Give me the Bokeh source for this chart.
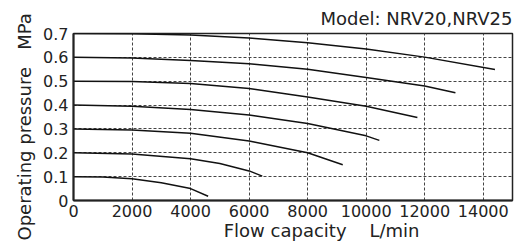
from bokeh.plotting import figure
from bokeh.models import Range1d, FixedTicker, Title
from bokeh.embed import file_html
from bokeh.resources import INLINE

# ---- data ----
x_ticks = [0, 2000, 4000, 6000, 8000, 10000, 12000, 14000]
y_ticks = [0, 0.1, 0.2, 0.3, 0.4, 0.5, 0.6, 0.7]

c07_x = [0, 2000, 4000, 6000, 8000, 10000, 12000, 14400]
c07_y = [0.700, 0.699, 0.694, 0.681, 0.661, 0.635, 0.601, 0.549]

c06_x = [0, 2000, 4000, 6000, 8000, 10000, 12000, 13050]
c06_y = [0.600, 0.597, 0.587, 0.573, 0.550, 0.516, 0.480, 0.452]

c05_x = [0, 2000, 4000, 6000, 8000, 10000, 11750]
c05_y = [0.500, 0.499, 0.490, 0.469, 0.434, 0.395, 0.348]

c04_x = [0, 2000, 4000, 6000, 8000, 10000, 10450]
c04_y = [0.400, 0.395, 0.381, 0.358, 0.323, 0.271, 0.252]

c03_x = [0, 2000, 4000, 6000, 8000, 9200]
c03_y = [0.300, 0.296, 0.282, 0.249, 0.200, 0.150]

c02_x = [0, 2000, 4000, 5000, 6000, 6450]
c02_y = [0.200, 0.195, 0.175, 0.155, 0.124, 0.102]

c01_x = [0, 1000, 2000, 3000, 4000, 4600]
c01_y = [0.100, 0.098, 0.091, 0.074, 0.050, 0.018]

curves = [(c07_x, c07_y), (c06_x, c06_y), (c05_x, c05_y), (c04_x, c04_y),
          (c03_x, c03_y), (c02_x, c02_y), (c01_x, c01_y)]

NB = "\u00a0"
title_text = "Model: NRV20,NRV25"
xlabel_text = NB * 10 + "Flow capacity" + NB * 4 + "L/min"
ylabel_text = "Operating pressure" + NB * 3 + "MPa"

FONT = "DejaVu Sans"
INK = "#222222"

p = figure(width=529, height=249,
           x_range=Range1d(0, 15000), y_range=Range1d(0, 0.7),
           output_backend="svg", toolbar_location=None,
           min_border_left=73, min_border_right=17,
           min_border_top=33, min_border_bottom=49)

p.background_fill_color = "white"
p.border_fill_color = "white"
p.outline_line_color = INK
p.outline_line_width = 1.5

p.title.text = title_text
p.title.align = "right"
p.title.text_font = FONT
p.title.text_font_size = "18px"
p.title.text_font_style = "normal"
p.title.text_color = INK
p.title.standoff = 10

p.xaxis.ticker = FixedTicker(ticks=x_ticks)
p.yaxis.ticker = FixedTicker(ticks=y_ticks)
p.yaxis.major_label_overrides = {0: "0"}

for ax in (p.xaxis, p.yaxis):
    ax.axis_line_color = INK
    ax.axis_line_width = 2
    ax.major_tick_line_color = None
    ax.minor_tick_line_color = None
    ax.major_tick_out = 0
    ax.major_tick_in = 0
    ax.major_label_text_font = FONT
    ax.major_label_text_font_size = "16px"
    ax.major_label_text_color = INK
    ax.axis_label_text_font = FONT
    ax.axis_label_text_font_size = "18px"
    ax.axis_label_text_font_style = "normal"
    ax.axis_label_text_color = INK
p.xaxis.major_label_standoff = 4
p.yaxis.major_label_standoff = 5
p.xaxis.axis_label = xlabel_text
p.xaxis.axis_label_standoff = 0

ytitle = Title(text=ylabel_text, align="left", offset=-40,
               text_font=FONT, text_font_size="18px",
               text_font_style="normal", text_color=INK, standoff=12)
p.add_layout(ytitle, "left")

for g in (p.xgrid, p.ygrid):
    g.grid_line_color = "#444444"
    g.grid_line_width = 1
    g.grid_line_dash = "3 2"

for xs, ys in curves:
    p.line(xs, ys, line_color="#111111", line_width=1.5)

open("out.html", "w").write(file_html(p, INLINE))
